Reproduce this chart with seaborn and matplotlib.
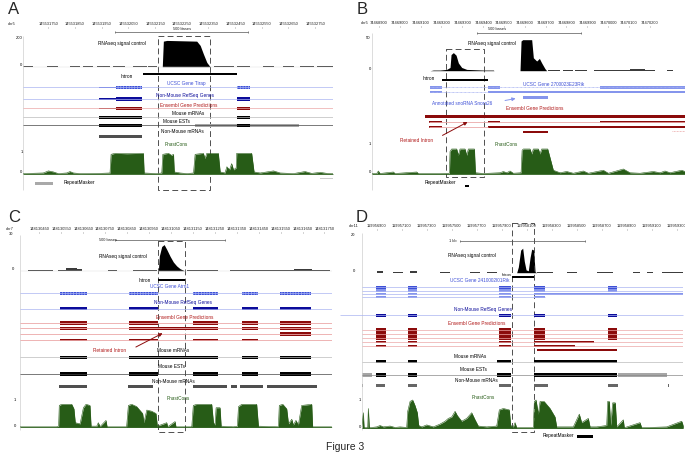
import numpy as np
import matplotlib
matplotlib.use("Agg")
import matplotlib.pyplot as plt
from matplotlib.patches import Rectangle
import seaborn as sns

sns.set_theme(style="white")
plt.rcParams["font.family"] = ["Liberation Sans", "DejaVu Sans"]
plt.rcParams["hatch.linewidth"] = 0.5

# ---------------- data (x in bases from the left edge of each browser view) ----
# Panel A: Tirap, chr5
A_start = 145531656
A_width = 1162
A_ticks = [145531750, 145531850, 145531950, 145532050, 145532150, 145532250,
           145532350, 145532450, 145532550, 145532650, 145532750]
A_sig_x = [521, 525, 538, 650, 663, 675, 688, 698, 700]
A_sig_v = [0, 180, 185, 180, 150, 90, 30, 5, 0]
A_sig_low = [(0, 38, 2), (88, 131, 2), (175, 213, 2), (225, 263, 2), (275, 325, 2),
             (338, 381, 2), (413, 463, 2), (469, 500, 2), (713, 788, 2), (800, 850, 2),
             (900, 938, 2), (975, 1013, 2), (1038, 1088, 2), (1100, 1162, 2)]
A_intron = [(448, 800)]
A_utr = [(285, 348)]
A_cds = [(348, 444), (800, 848)]
A_mrna = [(285, 444), (800, 848)]
A_est_grey = [(644, 800), (848, 1035)]
A_nonmouse = [(285, 444)]
A_repeat = [(44, 113)]
A_phast_x = [0, 75, 94, 113, 131, 163, 175, 188, 213, 288, 325, 329, 344, 388, 450,
             453, 500, 519, 523, 544, 556, 563, 566, 588, 613, 638, 644, 675, 681, 688,
             731, 738, 756, 763, 773, 781, 788, 798, 800, 856, 865, 888, 913, 938, 963,
             1013, 1056, 1081, 1113, 1138, 1162]
A_phast_v = [0.02, 0.05, 0.15, 0.1, 0.02, 0.05, 0.12, 0.05, 0.02, 0.03, 0.05, 0.95, 1.0,
             0.98, 1.0, 0.05, 0.02, 0.05, 0.95, 1.0, 0.9, 0.95, 0.1, 0.05, 0.02, 0.05,
             0.95, 1.0, 0.75, 1.0, 1.0, 0.1, 0.05, 0.35, 0.2, 0.5, 0.2, 0.3, 1.0, 1.0,
             0.1, 0.05, 0.1, 0.15, 0.05, 0.02, 0.12, 0.03, 0.08, 0.03, 0.02]

# Panel B: 2700023E23Rik / Snora26, chr5
B_start = 74468865
B_width = 1504
B_ticks = [74468900, 74469000, 74469100, 74469200, 74469300, 74469400, 74469500,
           74469600, 74469700, 74469800, 74469900, 74470000, 74470100, 74470200]
B_sig_x = [280, 296, 328, 360, 376, 381, 392, 405, 416, 432, 456, 536, 584, 587,
           712, 717, 725, 768, 776, 792, 805, 816, 832, 840]
B_sig_v = [0, 1, 1, 2, 5, 25, 28, 24, 12, 5, 2, 1, 1, 0,
           0, 46, 48, 48, 20, 15, 19, 12, 3, 0]
B_sig_low = [(848, 904, 0.6), (920, 968, 0.6), (976, 1032, 0.6), (1067, 1150, 1),
             (1150, 1240, 1.5), (1240, 1280, 2), (1280, 1310, 3), (1310, 1360, 1.5),
             (1416, 1448, 0.6)]
B_intron = [(339, 557)]
B_ucsc1 = [(280, 336), (557, 616), (1096, 1504)]
B_ucsc2 = [(280, 336), (557, 1504)]
B_snorna = [(728, 848)]
B_ens1 = [(256, 1504)]
B_ens2 = [(277, 336), (557, 616), (1096, 1504)]
B_ens3 = [(277, 336), (557, 1504)]
B_repeat = [(448, 469)]
B_phast_x = [0, 24, 32, 40, 104, 112, 216, 224, 328, 373, 376, 384, 408, 416, 424,
             448, 456, 464, 493, 498, 536, 616, 632, 648, 664, 680, 717, 722, 728, 760,
             768, 776, 800, 808, 816, 845, 872, 904, 936, 968, 1016, 1040, 1112, 1136,
             1208, 1240, 1288, 1352, 1384, 1408, 1432, 1488, 1504]
B_phast_v = [0.02, 0.02, 0.12, 0.02, 0.08, 0.02, 0.08, 0.02, 0.02, 0.03, 0.9, 1.0, 1.0,
             0.75, 1.0, 1.0, 0.75, 1.0, 1.0, 0.05, 0.02, 0.05, 0.1, 0.05, 0.12, 0.03,
             0.05, 0.95, 1.0, 1.0, 0.8, 1.0, 1.0, 0.8, 1.0, 1.0, 0.15, 0.05, 0.1, 0.03,
             0.12, 0.03, 0.15, 0.03, 0.2, 0.05, 0.03, 0.1, 0.05, 0.12, 0.05, 0.15, 0.1]

# Panel C: Atrn1, chr7
C_start = 148130362
C_width = 1421
C_ticks = [148130450, 148130550, 148130650, 148130750, 148130850, 148130950,
           148131050, 148131150, 148131250, 148131350, 148131450, 148131550,
           148131650, 148131750]
C_sig_x = [631, 635, 646, 657, 669, 684, 699, 714, 730, 745, 749]
C_sig_v = [0, 15, 25, 27, 22, 15, 9, 5, 2, 0.5, 0]
C_sig_low = [(38, 100, 0.6), (100, 152, 0.8), (175, 210, 1.2), (210, 260, 2.5),
             (260, 281, 1.5), (403, 441, 0.4), (517, 623, 0.8), (760, 904, 0.7),
             (958, 1050, 0.6), (1050, 1150, 0.9), (1150, 1250, 0.6), (1250, 1330, 1.5),
             (1330, 1414, 0.7)]
C_intron = [(631, 752)]
C_exons = [(182, 307), (497, 631), (790, 904), (1011, 1087), (1186, 1325)]
C_retained = [(182, 307), (497, 904), (1011, 1087), (1186, 1325)]
C_last_exon = [(1186, 1325)]
C_nonmouse = [(178, 307), (494, 608), (787, 863), (863, 942), (961, 988),
              (1003, 1110), (1125, 1353)]
C_phast_x = [0, 91, 167, 176, 179, 190, 236, 246, 252, 274, 289, 301, 319, 324, 350,
             357, 365, 392, 397, 486, 494, 509, 532, 559, 565, 578, 600, 620, 626, 669,
             673, 707, 711, 783, 790, 806, 874, 882, 889, 894, 912, 917, 973, 991, 996,
             1011, 1079, 1087, 1178, 1182, 1198, 1216, 1224, 1239, 1246, 1258, 1269,
             1284, 1330, 1334, 1421]
C_phast_v = [0.02, 0.02, 0.02, 0.05, 0.95, 1.0, 1.0, 0.8, 0.2, 0.15, 0.85, 1.0, 0.95,
             0.05, 0.05, 0.2, 0.03, 0.3, 0.02, 0.02, 0.95, 1.0, 0.9, 0.6, 0.2, 0.75, 0.7,
             0.6, 0.05, 0.2, 0.02, 0.25, 0.02, 0.02, 0.95, 1.0, 1.0, 0.2, 0.1, 0.85,
             0.85, 0.05, 0.02, 0.05, 0.9, 1.0, 1.0, 0.05, 0.02, 0.95, 1.0, 0.8, 0.15,
             0.35, 0.1, 0.3, 0.1, 0.95, 1.0, 0.02, 0.02]

# Panel D: 2410002I01Rik, chr11
D_start = 119956780
D_width = 2573
D_ticks = [119956900, 119957100, 119957300, 119957500, 119957700, 119957900,
           119958100, 119958300, 119958500, 119958700, 119958900, 119959100, 119959300]
D_sig_x = [1240, 1253, 1272, 1288, 1301, 1315, 1333, 1347, 1360, 1376, 1387, 1400]
D_sig_v = [0, 3, 12, 13, 6, 1.5, 1, 8, 12.5, 12, 0.5, 0]
D_sig_low = [(120, 173, 1.0), (253, 333, 0.3), (387, 440, 1.0), (627, 707, 0.3),
             (867, 947, 0.3), (1000, 1080, 0.3), (1400, 1533, 0.6), (1640, 1720, 0.3),
             (1880, 2013, 0.4), (2173, 2227, 0.3), (2280, 2333, 0.6), (2400, 2573, 0.3)]
D_intron = [(1205, 1381)]
D_exons = [(115, 195), (373, 440), (1101, 1192), (1381, 1467), (1973, 2040)]
D_ucsc_tail = [(1467, 2573)]
D_ens_long1 = [(1381, 1861)]
D_ens_long2 = [(1381, 1707)]
D_ens_long3 = [(1400, 2040)]
D_mrna = [(115, 195), (373, 440), (1085, 1192), (1381, 2040)]
D_est_grey = [(0, 80), (2053, 2440)]
D_nonmouse = [(115, 187), (373, 440), (1101, 1192), (1381, 1493), (1973, 2053),
              (5, 10), (2453, 2460)]
D_repeat = [(1720, 1853)]
D_phast_x = [0, 8, 13, 19, 48, 53, 61, 120, 147, 173, 227, 267, 307, 360, 368, 387,
             408, 427, 445, 456, 480, 520, 573, 627, 667, 693, 720, 747, 765, 800, 840,
             880, 907, 933, 1000, 1080, 1101, 1133, 1181, 1192, 1213, 1227, 1240, 1373,
             1381, 1395, 1413, 1427, 1459, 1507, 1547, 1560, 1693, 1741, 1760, 1813,
             1827, 1880, 1960, 1968, 1981, 1992, 2008, 2029, 2040, 2093, 2101, 2227,
             2240, 2440, 2560, 2573]
D_phast_v = [0.02, 0.3, 0.55, 0.02, 0.02, 0.7, 0.02, 0.05, 0.1, 0.05, 0.08, 0.03, 0.05,
             0.03, 0.6, 0.95, 1.0, 0.8, 0.55, 0.1, 0.05, 0.12, 0.05, 0.15, 0.25, 0.35,
             0.4, 0.6, 0.45, 0.25, 0.35, 0.55, 0.3, 0.08, 0.05, 0.08, 0.65, 0.7, 0.65,
             0.1, 0.05, 0.2, 0.02, 0.02, 0.95, 1.0, 0.5, 0.95, 0.95, 0.7, 0.4, 0.05,
             0.05, 0.5, 0.2, 0.35, 0.05, 0.05, 0.1, 0.95, 0.95, 0.1, 0.9, 0.9, 0.05,
             0.3, 0.02, 0.2, 0.02, 0.05, 0.25, 0.1]

# ---------------- colours ----------------
UCSC_BLUE = "#3d4fd6"
LIGHT_BLUE = "#8595ec"
LINE_BLUE = "#a9b3f2"
NAVY = "#0c0c9a"
DARK_RED = "#8b0b0b"
PINK = "#eba7a7"
GREEN = "#275c17"
EST_GREY = "#a6a6a6"
NONMOUSE = "#4f4f4f"
TXT = 3.4

W, H = 685, 466
fig = plt.figure(figsize=(W / 100, H / 100), dpi=100)


def panel_axes(left, right, top, bottom, width_bp):
    ax = fig.add_axes([left / W, 1 - bottom / H, (right - left) / W, (bottom - top) / H])
    ax.set_xlim(0, width_bp)
    ax.set_ylim(bottom, top)
    ax.axis("off")
    return ax


def ruler(ax, start, ticks, y, chrom, chrom_x):
    xs = [t - start for t in ticks]
    for x, t in zip(xs, ticks):
        ax.text(x, y, str(t), fontsize=2.9, ha="center", va="center", color="#222", clip_on=False)
    ax.vlines(xs, y + 2.5, y + 4, colors="#666", lw=0.4)
    ax.text(chrom_x, y, chrom, fontsize=2.9, ha="center", va="center", color="#222", clip_on=False)


def scale_bar(ax, x0, length, y, label, label_x, label_y, ha="center"):
    ax.hlines(y, x0, x0 + length, colors="#555", lw=0.5)
    ax.vlines([x0, x0 + length], y - 1, y + 1, colors="#555", lw=0.5)
    ax.text(label_x, label_y, label, fontsize=2.9, ha=ha, va="center", color="#222")


def track(ax, y, segs, color, h, **kw):
    ax.broken_barh([(a, b - a) for a, b in segs], (y - h / 2, h), facecolors=color, lw=0, **kw)


def line(ax, y, x0, x1, color, lw=0.5, ls="-", clip=True):
    ax.hlines(y, x0, x1, colors=color, lw=lw, linestyles=ls, clip_on=clip)


def signal(ax, xs, vs, vmax, base, height):
    ys = base - np.asarray(vs, float) / vmax * height
    ax.fill_between(xs, ys, base, color="black", lw=0)


def low_signal(ax, segs, vmax, base, height, color="#3c3c3c"):
    for a, b, v in segs:
        h = max(v / vmax * height, 0.7)
        ax.add_patch(Rectangle((a, base - h), b - a, h, color=color, lw=0))


def phast(ax, xs, vs, base, height):
    ys = base - np.asarray(vs, float) * height
    ax.fill_between(xs, ys, base, color=GREEN, lw=0)
    sns.lineplot(x=xs, y=ys, ax=ax, color=GREEN, lw=0.4, estimator=None, sort=False, legend=False)
    ax.hlines(base, xs[0], xs[-1], colors=GREEN, lw=0.5)


def dashed_box(ax, x0, x1, y0, y1):
    ax.add_patch(Rectangle((x0, y0), x1 - x0, y1 - y0, fill=False, ec="#333",
                           lw=0.6, ls=(0, (7, 4))))


def lab(ax, x, y, s, color="black", ha="center", size=TXT):
    ax.text(x, y, s, fontsize=size, ha=ha, va="center", color=color, clip_on=False)


def left_axis(ax, y0, y1):
    ax.vlines(0, y0, y1, colors="#cfcfcf", lw=0.5)


def arrow(ax, x0, y0, x1, y1, color):
    ax.annotate("", xy=(x1, y1), xytext=(x0, y0),
                arrowprops=dict(arrowstyle="-|>", color=color, lw=0.7, mutation_scale=5))


hatch = dict(edgecolor="#a8b8f5", hatch="||||||")

# ---------------- Panel A ----------------
ax = panel_axes(23.3, 333.3, 0, 215, A_width)
left_axis(ax, 36, 190)
ruler(ax, A_start, A_ticks, 24, "chr5", -45)
scale_bar(ax, 344, 500, 32, "500 bases", 594, 29.3)
line(ax, 66.7, 0, A_width, "#dddddd", lw=0.3)
low_signal(ax, A_sig_low, 200, 66.7, 28.4)
signal(ax, A_sig_x, A_sig_v, 200, 66.7, 28.4)
lab(ax, -3, 38, "200", ha="right", size=3)
lab(ax, -3, 64.5, "0", ha="right", size=3)
lab(ax, 369, 43.3, "RNAseq signal control")
dashed_box(ax, 506, 698, 36, 190)
track(ax, 74, A_intron, "black", 1.8)
lab(ax, 388, 76, "Intron")
line(ax, 87.3, 0, A_width, LINE_BLUE)
track(ax, 87.3, A_utr, UCSC_BLUE, 1.5)
track(ax, 87.3, A_cds, UCSC_BLUE, 3.3, **hatch)
lab(ax, 612, 83.5, "UCSC Gene Tirap", color=UCSC_BLUE)
line(ax, 99, 0, A_width, LINE_BLUE)
track(ax, 99, A_utr, NAVY, 1.5)
track(ax, 99, A_cds, NAVY, 3.3)
lab(ax, 606, 95.7, "Non-Mouse RefSeq Genes", color=NAVY)
line(ax, 108.3, 0, A_width, PINK)
track(ax, 108.3, A_utr, DARK_RED, 1.5)
track(ax, 108.3, A_cds, DARK_RED, 3.3)
lab(ax, 619, 105.7, "Ensembl Gene Predictions", color="#b01818")
line(ax, 117.3, 0, A_width, "#bbbbbb")
track(ax, 117.3, A_mrna, "black", 3.3)
lab(ax, 619, 113.3, "Mouse mRNAs")
line(ax, 125.3, 0, A_width, "#444444")
track(ax, 125.3, A_est_grey, EST_GREY, 3.3)
track(ax, 125.3, A_mrna, "black", 3.3)
lab(ax, 575, 121.3, "Mouse ESTs")
track(ax, 136.7, A_nonmouse, NONMOUSE, 3.3)
lab(ax, 597, 131.7, "Non-Mouse mRNAs")
phast(ax, A_phast_x, A_phast_v, 174, 20.7)
lab(ax, 575, 144, "PhastCons", color=GREEN)
lab(ax, -3, 151.7, "1", ha="right", size=3)
lab(ax, -3, 171.7, "0", ha="right", size=3)
track(ax, 183.3, A_repeat, "#a9a9a9", 2.7)
track(ax, 178.3, [(1113, 1162)], "#cccccc", 0.8)
lab(ax, 150, 182.7, "RepeatMasker", ha="left")

# ---------------- Panel B ----------------
ax = panel_axes(371.7, 685, 0, 215, B_width)
left_axis(ax, 33, 190)
ruler(ax, B_start, B_ticks, 23.3, "chr5", -32)
scale_bar(ax, 504, 500, 33.3, "500 bases", 600, 29)
low_signal(ax, B_sig_low, 50, 70.7, 32.3)
signal(ax, B_sig_x, B_sig_v, 50, 70.7, 32.3)
lab(ax, -5, 38.3, "50", ha="right", size=3)
lab(ax, -5, 69, "0", ha="right", size=3)
lab(ax, 576, 43.3, "RNAseq signal control")
dashed_box(ax, 355, 539, 49.3, 176.7)
track(ax, 80, B_intron, "black", 1.8)
lab(ax, 272, 79, "Intron")
line(ax, 87.3, 280, B_width, LINE_BLUE, lw=0.6, ls=(0, (1, 0.6)))
track(ax, 87.3, B_ucsc1, LIGHT_BLUE, 2.6)
line(ax, 92, 280, 557, LINE_BLUE, lw=0.6, ls=(0, (1, 0.6)))
track(ax, 92, B_ucsc2, LIGHT_BLUE, 2.6)
lab(ax, 872, 84, "UCSC Gene 2700023E23Rik", color=UCSC_BLUE)
track(ax, 97.3, B_snorna, LIGHT_BLUE, 2.6)
lab(ax, 432, 103.3, "Annotated snoRNA Snora26", color=UCSC_BLUE)
arrow(ax, 627, 101, 704, 98, LIGHT_BLUE)
lab(ax, 784, 108.3, "Ensembl Gene Predictions", color="#b01818")
track(ax, 116.7, B_ens1, DARK_RED, 2.6)
line(ax, 122, 277, B_width, PINK, lw=0.6)
track(ax, 122, B_ens2, DARK_RED, 2.6)
line(ax, 127, 277, 557, PINK, lw=0.6)
track(ax, 127, B_ens3, DARK_RED, 2.6)
track(ax, 132, B_snorna, DARK_RED, 2.6)
line(ax, 131, 1440, B_width, PINK, lw=0.6, ls=(0, (1, 0.8)))
lab(ax, 216, 140, "Retained Intron", color="#b01818")
arrow(ax, 328, 136.7, 472, 120.7, DARK_RED)
phast(ax, B_phast_x, B_phast_v, 174, 25)
lab(ax, 645, 144, "PhastCons", color=GREEN)
lab(ax, -5, 144.3, "1", ha="right", size=3)
lab(ax, -5, 172.3, "0", ha="right", size=3)
track(ax, 186, B_repeat, "black", 2.8)
lab(ax, 328, 182.7, "RepeatMasker")

# ---------------- Panel C ----------------
ax = panel_axes(20, 331.7, 215, 455, C_width)
left_axis(ax, 235, 430)
ruler(ax, C_start, C_ticks, 229.3, "chr7", -46)
lab(ax, -40, 234, "30", size=2.9)
scale_bar(ax, 433, 500, 240, "500 bases", 403, 240)
line(ax, 270.7, 0, C_width, "#dddddd", lw=0.3)
low_signal(ax, C_sig_low, 30, 270.7, 29)
signal(ax, C_sig_x, C_sig_v, 30, 270.7, 29)
lab(ax, -30, 269.3, "0", size=3)
lab(ax, 471, 256.7, "RNAseq signal control")
dashed_box(ax, 631, 752, 240.7, 431.7)
track(ax, 280.3, C_intron, "black", 1.8)
lab(ax, 570, 280, "Intron")
line(ax, 293.3, 0, C_width, LINE_BLUE)
track(ax, 293.3, C_exons, UCSC_BLUE, 3.3, **hatch)
lab(ax, 684, 286.7, "UCSC Gene Atrn1", color=UCSC_BLUE)
line(ax, 308.7, 0, C_width, LINE_BLUE)
track(ax, 308.7, C_exons, NAVY, 3.3)
lab(ax, 745, 302.7, "Non-Mouse RefSeq Genes", color=NAVY)
lab(ax, 752, 317.7, "Ensembl Gene Predictions", color="#b01818")
for yy in (323, 328.3, 334.3, 340.3):
    line(ax, yy, 0, C_width, PINK, lw=0.6)
track(ax, 323, C_exons, DARK_RED, 3.3)
track(ax, 328.3, C_retained, DARK_RED, 3.0)
track(ax, 334.3, C_last_exon, DARK_RED, 4.0)
track(ax, 340.3, C_exons[:4], DARK_RED, 2.2)
lab(ax, 410, 350, "Retained Intron", color="#b01818")
arrow(ax, 517, 348.3, 661, 332, DARK_RED)
line(ax, 357.3, 0, C_width, "#bbbbbb")
track(ax, 357.3, C_retained, "black", 3.3)
lab(ax, 699, 350, "Mouse mRNAs")
line(ax, 374, 0, C_width, "#444444")
track(ax, 374, C_exons, "black", 3.3)
lab(ax, 692, 366.7, "Mouse ESTs")
track(ax, 386.7, C_nonmouse, NONMOUSE, 3.0)
lab(ax, 699, 381.7, "Non-Mouse mRNAs")
phast(ax, C_phast_x, C_phast_v, 427.3, 23)
lab(ax, 722, 398.3, "PhastCons", color=GREEN)
lab(ax, -25, 400, "1", size=3)
lab(ax, -25, 426, "0", size=3)

# ---------------- Panel D ----------------
ax = panel_axes(361.7, 683.3, 215, 455, D_width)
left_axis(ax, 233, 430)
ruler(ax, D_start, D_ticks, 226, "chr11", -67)
lab(ax, -67, 235, "20", size=2.9)
scale_bar(ax, 787, 1000, 240.7, "1 kb", 760, 240.7, ha="right")
low_signal(ax, D_sig_low, 20, 272.7, 37.7)
signal(ax, D_sig_x, D_sig_v, 20, 272.7, 37.7)
lab(ax, -60, 270.7, "0", size=3)
lab(ax, 880, 256, "RNAseq signal control")
dashed_box(ax, 1205, 1381, 223.3, 431.7)
track(ax, 277.3, D_intron, "black", 1.8)
lab(ax, 1195, 275.3, "Intron", ha="right", size=2.8)
for yy in (287.3, 290.7, 294):
    line(ax, yy, 0, D_width, LINE_BLUE, lw=0.5)
line(ax, 297.3, 0, 1467, LINE_BLUE, lw=0.5)
track(ax, 287.3, D_exons, UCSC_BLUE, 3.0)
track(ax, 290.7, D_exons, LIGHT_BLUE, 3.0)
track(ax, 294, D_exons[:4], LIGHT_BLUE, 2.6)
track(ax, 294, D_ucsc_tail, LIGHT_BLUE, 1.2)
track(ax, 297.3, D_exons[:4], LIGHT_BLUE, 2.0)
lab(ax, 947, 280, "UCSC Gene 2410002I01Rik", color=UCSC_BLUE)
line(ax, 315, -173, D_width, LINE_BLUE, lw=0.5, clip=False)
track(ax, 315, D_exons, NAVY, 3.0)
lab(ax, 973, 309.3, "Non-Mouse RefSeq Genes", color=NAVY)
lab(ax, 920, 323.7, "Ensembl Gene Predictions", color="#b01818")
for yy in (330, 334, 338, 342, 346):
    line(ax, yy, 0, D_width, PINK, lw=0.5)
for yy in (330, 334, 338):
    track(ax, yy, D_exons, DARK_RED, 3.6)
track(ax, 342, D_exons[:3], DARK_RED, 2.0)
track(ax, 342, D_ens_long1, DARK_RED, 1.6)
track(ax, 346, D_exons[:3], DARK_RED, 2.0)
track(ax, 346, D_ens_long2, DARK_RED, 1.6)
track(ax, 350, D_ens_long3, DARK_RED, 1.6)
line(ax, 361.7, 0, D_width, "#bbbbbb")
track(ax, 361.7, D_mrna, "black", 3.3)
lab(ax, 867, 356.7, "Mouse mRNAs")
line(ax, 375, 0, D_width, "#888888")
track(ax, 375, D_est_grey, EST_GREY, 3.3)
track(ax, 375, D_mrna, "black", 3.3)
lab(ax, 893, 369.3, "Mouse ESTs")
track(ax, 385.7, D_nonmouse, "#666666", 2.6)
lab(ax, 920, 381, "Non-Mouse mRNAs")
phast(ax, D_phast_x, D_phast_v, 428.3, 28.3)
lab(ax, 973, 397.3, "PhastCons", color=GREEN)
lab(ax, -15, 400, "1", size=3)
lab(ax, -15, 426.7, "0", size=3)
track(ax, 436.7, D_repeat, "black", 2.8)
lab(ax, 1573, 435, "RepeatMasker")

# ---------------- panel letters and caption ----------------
for s, x, y in [("A", 14, 9), ("B", 362, 9), ("C", 14, 218), ("D", 362, 218)]:
    fig.text(x / W, 1 - y / H, s, fontsize=12, ha="center", va="center")
fig.text(345 / W, 1 - 447 / H, "Figure 3", fontsize=7.5, ha="center", va="center")

fig.savefig("out.png", dpi=100)
